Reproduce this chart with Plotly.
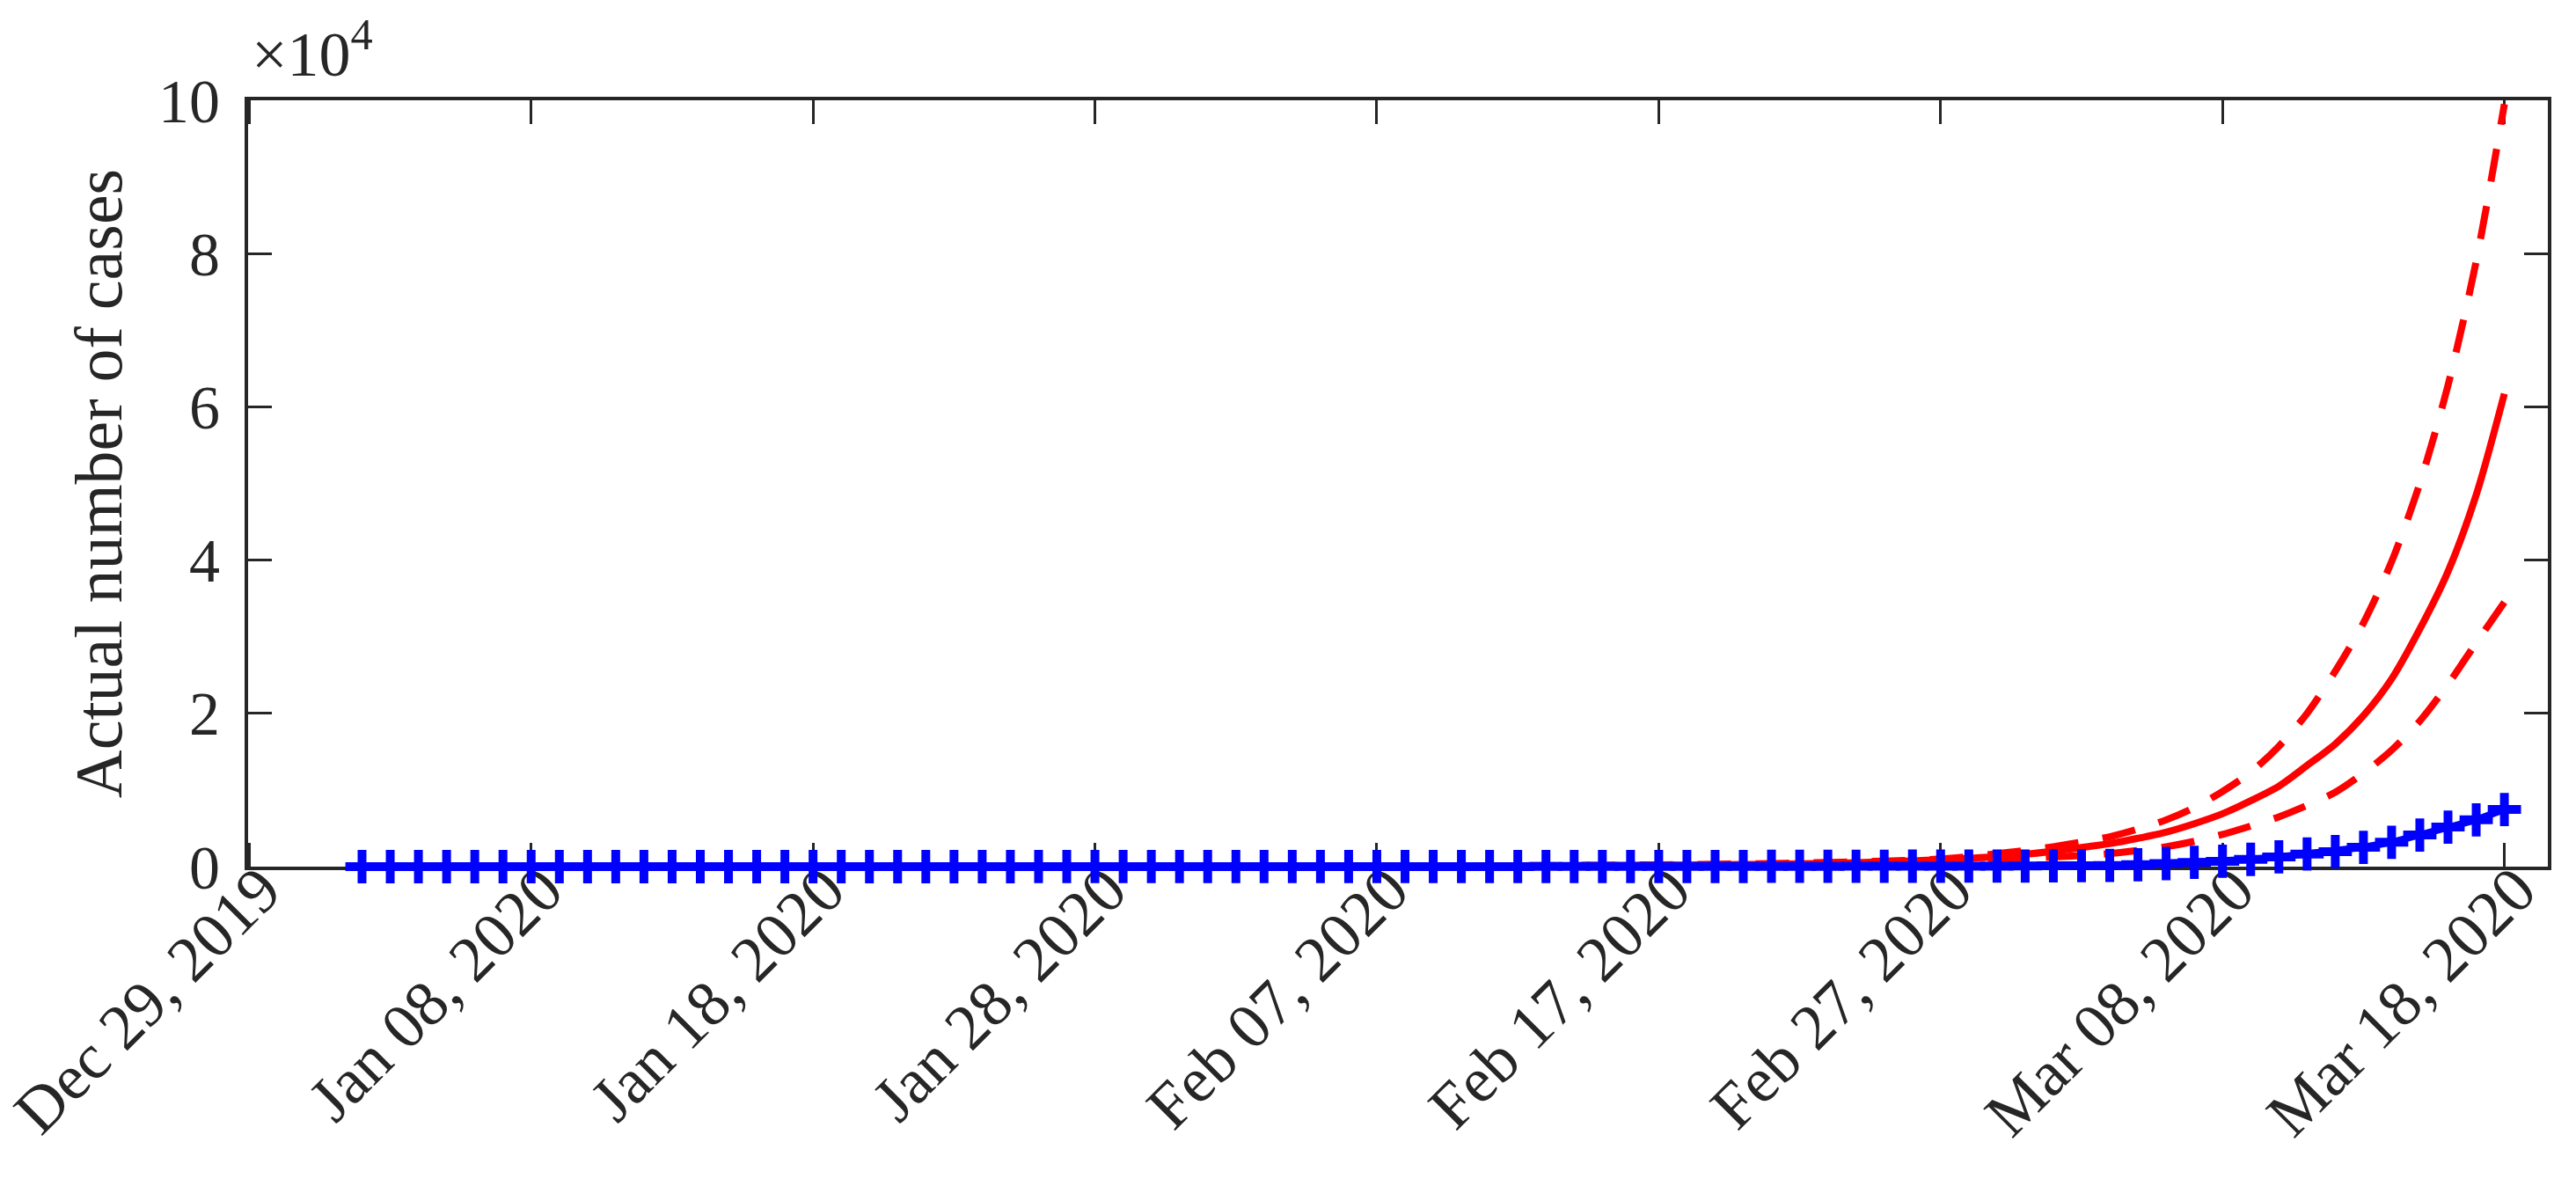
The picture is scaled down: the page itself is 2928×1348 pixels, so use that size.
import pandas as pd
import plotly.graph_objects as go

# ---------------- data ----------------
start_date = "2020-01-02"
n_days = 77  # Jan 02 .. Mar 18, 2020

# observed (actual) cumulative cases, blue '+'
actual_cases = [
    # Jan 02 - Jan 31
    0, 0, 0, 0, 0, 0, 0, 0, 0, 0, 0, 0, 0, 0, 0, 0, 0, 0, 0, 1,
    1, 1, 2, 2, 5, 5, 5, 5, 6, 7,
    # Feb 01 - Feb 29
    8, 11, 11, 11, 12, 12, 12, 12, 12, 12, 13, 13, 15, 15, 15, 15, 15, 15,
    15, 15, 35, 35, 35, 53, 53, 59, 60, 62, 70,
    # Mar 01 - Mar 18
    76, 101, 122, 150, 250, 400, 550, 700, 950, 1270, 1640, 1950, 2520,
    3180, 4130, 5160, 6100, 7450,
]

# model estimate (solid red)
model_mean = [
    # Jan
    2, 2, 2, 3, 3, 3, 3, 4, 4, 4, 5, 5, 5, 6, 6, 7, 7, 8, 8, 9,
    10, 11, 12, 13, 14, 16, 17, 19, 21, 23,
    # Feb
    25, 28, 32, 36, 40, 45, 51, 58, 66, 75, 85, 97, 110, 125, 142, 162, 185,
    210, 240, 275, 320, 370, 430, 520, 620, 750, 900, 1100, 1300,
    # Mar
    1600, 2000, 2500, 3000, 3700, 4500, 5600, 6900, 8600, 10500, 13200,
    16000, 19700, 24500, 31000, 38500, 48500, 61700,
]

# upper bound (dashed red)
model_upper = [
    # Jan
    3, 3, 3, 3, 4, 4, 4, 5, 5, 5, 6, 6, 7, 7, 8, 9, 9, 10, 11, 12,
    13, 14, 15, 17, 18, 20, 22, 24, 26, 28,
    # Feb
    30, 34, 38, 43, 49, 56, 64, 73, 83, 95, 108, 124, 142, 162, 185, 212,
    242, 277, 317, 362, 415, 475, 545, 625, 720, 830, 1000, 1300, 1700,
    # Mar
    2100, 2600, 3200, 3900, 4900, 6100, 7700, 9800, 12300, 15700, 20000,
    25500, 31800, 39800, 50000, 62800, 79000, 99500,
]

# lower bound (dashed red)
model_lower = [
    # Jan
    1, 1, 1, 2, 2, 2, 2, 2, 3, 3, 3, 3, 3, 4, 4, 4, 5, 5, 5, 6,
    6, 7, 7, 8, 9, 10, 11, 12, 14, 17,
    # Feb
    20, 22, 25, 28, 31, 35, 39, 44, 50, 56, 63, 71, 80, 90, 102, 115, 130,
    147, 166, 188, 212, 240, 272, 330, 420, 500, 600, 750, 900,
    # Mar
    1050, 1250, 1450, 1700, 2100, 2600, 3300, 4200, 5300, 6500, 8000, 9700,
    12200, 15200, 19000, 23800, 29200, 34500,
]

x_tick_dates = ["2019-12-29", "2020-01-08", "2020-01-18", "2020-01-28",
                "2020-02-07", "2020-02-17", "2020-02-27", "2020-03-08",
                "2020-03-18"]
x_tick_labels = ["Dec 29, 2019", "Jan 08, 2020", "Jan 18, 2020", "Jan 28, 2020",
                 "Feb 07, 2020", "Feb 17, 2020", "Feb 27, 2020", "Mar 08, 2020",
                 "Mar 18, 2020"]
y_tick_values = [0, 20000, 40000, 60000, 80000, 100000]
y_tick_labels = ["0", "2", "4", "6", "8", "10"]

dates = pd.date_range(start_date, periods=n_days, freq="D")

# ---------------- figure ----------------
AX = "#262626"
FONT = "Liberation Serif, Times New Roman, serif"
RED = "#FF0000"
BLUE = "#0000FF"

fig = go.Figure()
fig.add_trace(go.Scatter(x=dates, y=model_upper, mode="lines",
                         line=dict(color=RED, width=8, dash="38px,28px",
                                   shape="spline", smoothing=0.8),
                         showlegend=False))
fig.add_trace(go.Scatter(x=dates, y=model_lower, mode="lines",
                         line=dict(color=RED, width=8, dash="38px,28px",
                                   shape="spline", smoothing=0.8),
                         showlegend=False))
fig.add_trace(go.Scatter(x=dates, y=model_mean, mode="lines",
                         line=dict(color=RED, width=8,
                                   shape="spline", smoothing=0.8),
                         showlegend=False))
fig.add_trace(go.Scatter(x=dates, y=actual_cases, mode="lines+markers",
                         line=dict(color=BLUE, width=8),
                         marker=dict(symbol="cross-thin", size=27, color=BLUE,
                                     line=dict(width=10, color=BLUE)),
                         cliponaxis=False,
                         showlegend=False))

axis_common = dict(
    showline=True, linewidth=4, linecolor=AX, mirror="ticks",
    ticks="inside", ticklen=27, tickwidth=3, tickcolor=AX,
    showgrid=False, zeroline=False, layer="below traces",
)

fig.update_layout(
    width=2928, height=1348,
    margin=dict(l=274, r=40, t=106, b=371, autoexpand=False),
    paper_bgcolor="white", plot_bgcolor="white",
    font=dict(family=FONT, color=AX),
    xaxis=dict(type="date", range=["2019-12-28 23:00", "2020-03-19 13:00"],
               tickvals=x_tick_dates, ticktext=x_tick_labels,
               tickangle=-45, ticklabelstandoff=-50, ticklabelshift=14,
               ticklabeloverflow="allow",
               tickfont=dict(family=FONT, size=73, color=AX),
               **axis_common),
    yaxis=dict(range=[0, 100000], tickvals=y_tick_values,
               ticktext=y_tick_labels, ticklabelstandoff=14,
               tickfont=dict(family=FONT, size=70, color=AX),
               title=dict(text="Actual number of cases",
                          font=dict(family=FONT, size=76, color=AX),
                          standoff=17),
               **axis_common),
    annotations=[dict(text="×10<sup>4</sup>", xref="paper", yref="paper",
                      x=0, y=1, xanchor="left", yanchor="bottom",
                      xshift=2, yshift=10, showarrow=False,
                      font=dict(family=FONT, size=72, color=AX))],
)

fig.write_html("out.html")
